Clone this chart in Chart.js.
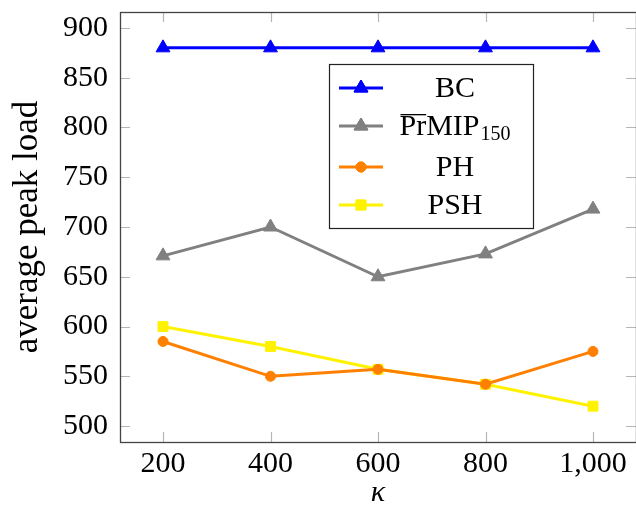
<!DOCTYPE html>
<html>
<head>
<meta charset="utf-8">
<script src="https://cdn.jsdelivr.net/npm/chart.js@4"></script>
<style>
  html, body { margin: 0; padding: 0; background: #fff; }
  #wrap { width: 636px; height: 508px; }
</style>
</head>
<body>
<div id="wrap"><canvas id="myChart" width="636" height="508"></canvas></div>
<script>
const kappa = [200, 400, 600, 800, 1000];
const bc = [880, 880, 880, 880, 880];
const prmip = [671, 700, 650, 673, 718];
const ph = [585, 550, 557, 542, 575];
const psh = [600, 580, 557, 542, 520];
const xTicks = [200, 400, 600, 800, 1000];
const yTicks = [500, 550, 600, 650, 700, 750, 800, 850, 900];
const names = ["BC", "PrMIP150", "PH", "PSH"];

const serif = "'Liberation Serif', 'Times New Roman', serif";

function pts(ys) {
    let out = [];
    for (let i = 0; i < kappa.length; i++) {
        out.push({ x: kappa[i], y: ys[i] });
    }
    return out;
}

function series(label, ys, color, style, radius) {
    return {
        label: label,
        data: pts(ys),
        borderColor: color,
        backgroundColor: color,
        borderWidth: 3,
        pointStyle: style,
        pointRadius: radius,
        pointHoverRadius: radius,
        pointBorderWidth: 1,
        pointBackgroundColor: color,
        pointBorderColor: color,
        tension: 0,
    };
}

// legend box + inward ticks + frame, drawn like pgfplots does
const frame = {
    id: "frame",
    afterDatasetsDraw(chart) {
        const c = chart.ctx;
        const a = chart.chartArea;
        const xs = chart.scales.x;
        const ys = chart.scales.y;
        c.save();
        c.strokeStyle = "#b5b5b5";
        c.lineWidth = 1.2;
        c.beginPath();
        xTicks.forEach(t => {
            const px = Math.round(xs.getPixelForValue(t)) + 0.5;
            c.moveTo(px, a.bottom); c.lineTo(px, a.bottom - 10);
            c.moveTo(px, a.top); c.lineTo(px, a.top + 10);
        });
        yTicks.forEach(t => {
            const py = Math.round(ys.getPixelForValue(t)) + 0.5;
            c.moveTo(a.left, py); c.lineTo(a.left + 10, py);
            c.moveTo(a.right, py); c.lineTo(a.right - 10, py);
        });
        c.stroke();

        c.strokeStyle = "#444";
        c.lineWidth = 1.3;
        c.strokeRect(a.left + 0.5, a.top + 0.5, a.right - a.left, a.bottom - a.top);

        // legend
        const lx = 329, ly = 64, lw = 204, lh = 164;
        c.fillStyle = "#fff";
        c.fillRect(lx, ly, lw, lh);
        c.strokeStyle = "#222";
        c.lineWidth = 1.2;
        c.strokeRect(lx + 0.5, ly + 0.5, lw, lh);
        const rows = [88, 126, 167, 205];
        chart.data.datasets.forEach((ds, i) => {
            const y = rows[i];
            c.strokeStyle = ds.borderColor;
            c.lineWidth = 3;
            c.beginPath();
            c.moveTo(339, y); c.lineTo(383, y);
            c.stroke();
            c.fillStyle = ds.borderColor;
            c.lineWidth = 1;
            Chart.helpers.drawPoint(c, { pointStyle: ds.pointStyle, radius: ds.pointRadius, borderWidth: 1, rotation: 0 }, 361, y);
            c.fill();
            c.stroke();

            c.fillStyle = "#000";
            c.textBaseline = "middle";
            const name = ds.label;
            if (name === "PrMIP150") {
                c.font = "30px " + serif;
                const w1 = c.measureText("Pr").width;
                const w2 = c.measureText("MIP").width;
                c.font = "20px " + serif;
                const w3 = c.measureText("150").width;
                let x0 = 455 - (w1 + w2 + w3 + 1) / 2;
                c.font = "30px " + serif;
                c.textAlign = "left";
                c.fillText("Pr", x0, y + 1);
                c.fillText("MIP", x0 + w1, y + 1);
                c.fillRect(x0 + 1, y - 12, w1 - 1, 1.3);
                c.font = "20px " + serif;
                c.fillText("150", x0 + w1 + w2 + 1, y + 9);
            } else {
                c.font = "30px " + serif;
                c.textAlign = "center";
                c.fillText(name, 455, y + 1);
            }
        });
        c.restore();
    }
};

const ctx = document.getElementById("myChart").getContext("2d");

const myChart = new Chart(ctx, {
    type: "line",
    data: {
        datasets: [
            series(names[0], bc, "#0000ff", "triangle", 8),
            series(names[1], prmip, "#808080", "triangle", 8),
            series(names[2], ph, "#ff8000", "circle", 5),
            series(names[3], psh, "#fff200", "rect", 7),
        ],
    },
    options: {
        responsive: false,
        animation: false,
        layout: { autoPadding: false, padding: { top: 12, right: 0, left: 0, bottom: 0 } },
        plugins: {
            legend: { display: false },
            tooltip: { enabled: false },
        },
        scales: {
            x: {
                type: "linear",
                min: 120,
                max: 1080,
                grid: { display: false, drawTicks: false },
                border: { display: false },
                afterBuildTicks: (s) => { s.ticks = xTicks.map(v => ({ value: v })); },
                afterFit: (s) => {
                    s.height = 66;
                    s.paddingLeft = 0;
                    s.paddingRight = 0;
                },
                ticks: {
                    color: "#000",
                    padding: 4,
                    font: { family: serif, size: 30 },
                    callback: (v) => v.toLocaleString("en-US"),
                },
                title: {
                    display: true,
                    text: "\u03ba",
                    color: "#000",
                    padding: 0,
                    font: { family: serif, size: 30, style: "italic", lineHeight: 1 },
                },
            },
            y: {
                min: 484,
                max: 916,
                grid: { display: false, drawTicks: false },
                border: { display: false },
                afterBuildTicks: (s) => { s.ticks = yTicks.map(v => ({ value: v })); },
                afterFit: (s) => {
                    s.width = 120;
                    s.paddingTop = 0;
                    s.paddingBottom = 0;
                },
                ticks: {
                    color: "#000",
                    padding: 12,
                    font: { family: serif, size: 30 },
                },
                title: {
                    display: true,
                    text: "average peak load",
                    color: "#000",
                    padding: { top: 7, bottom: 0 },
                    font: { family: serif, size: 35, lineHeight: 1.2 },
                },
            },
        },
    },
    plugins: [frame],
});
</script>
</body>
</html>
